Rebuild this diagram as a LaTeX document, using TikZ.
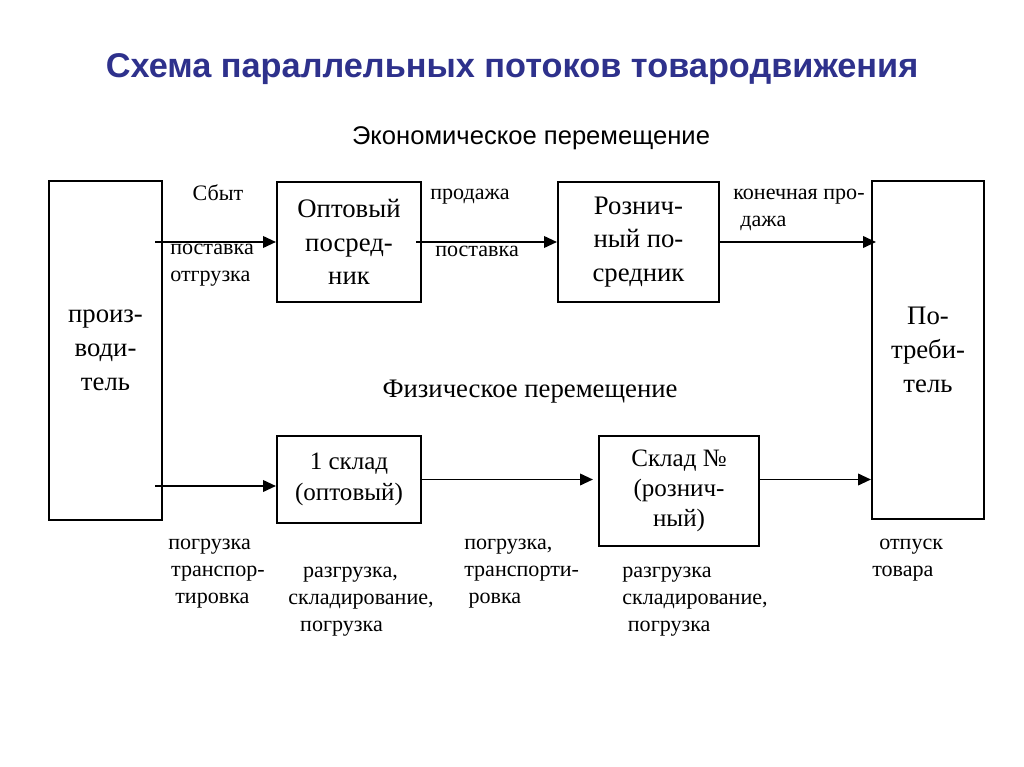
\documentclass[tikz,border=0pt]{standalone}
\usepackage{fontspec}
\setmainfont{Liberation Serif}
\setsansfont{Liberation Sans}
\usetikzlibrary{positioning, arrows.meta}
\definecolor{titleblue}{RGB}{46,49,140}

\begin{document}
\begin{tikzpicture}[x=0.025cm, y=-0.025cm,
  box/.style = {draw, line width=1.5pt, align=center, inner sep=0pt, font=\fontsize{19}{24}\selectfont},
  store/.style = {box, font=\fontsize{17.8}{21.5}\selectfont},
  lbl/.style = {align=left, inner sep=0pt, anchor=west, font=\fontsize{15.7}{19.2}\selectfont},
  flow/.style = {-{Triangle[length=3.2mm, width=2.9mm]}, line width=1.1pt}]
\useasboundingbox (0,0) rectangle (1024,767);

\node[font=\sffamily\bfseries\fontsize{24.4}{28}\selectfont, text=titleblue] (title) at (512,69) {Схема параллельных потоков товародвижения};
\node[font=\sffamily\fontsize{18.2}{21}\selectfont] (econ) at (531,138) {Экономическое перемещение};
\node[font=\fontsize{19}{22}\selectfont] (phys) at (530,392) {Физическое перемещение};

\node[box, minimum width=2.825cm, minimum height=8.475cm] (prod) at (105.5,350.5) {произ-\\води-\\тель};
\node[box, minimum width=3.6cm, minimum height=3cm] (opt) at (349,242) {Оптовый\\посред-\\ник};
\node[box, minimum width=4.025cm, minimum height=3cm] (rozn) at (638.5,242) {Рознич-\\ный по-\\средник};
\node[box, minimum width=2.8cm, minimum height=8.45cm] (cons) at (928,350) {По-\\треби-\\тель};
\node[store, minimum width=3.6cm, minimum height=2.175cm] (sk1) at (349,479.5) {1 склад\\(оптовый)};
\node[store, minimum width=4cm, minimum height=2.75cm] (skN) at (679,491) {Склад №\\(рознич-\\ный)};

\coordinate (s1) at (155,242);
\coordinate (s2) at (155,486);
\draw[flow] (s1) -- (s1 -| opt.west);
\draw[flow] ([xshift=-4pt]opt.east) -- (rozn.west);
\draw[flow, shorten >=-0.125cm] (rozn.east) -- (rozn.east -| cons.west);
\draw[flow] (s2) -- (s2 -| sk1.west);
\draw[flow, shorten >=0.125cm] (sk1.east) -- (sk1.east -| skN.west);
\draw[flow] (skN.east |- sk1.east) -- (sk1.east -| cons.west);

\node[lbl, anchor=center] (sbyt) at (218,193) {Сбыт};
\node[lbl] (post1) at (170,265.5) {поставка\\отгрузка};
\node[lbl] (prod2) at (430,196.5) {продажа};
\node[lbl] (post2) at (435,251.5) {поставка};
\node[lbl] (kon) at (733,209.5) {конечная про-\\\hspace{5pt}дажа};
\node[lbl] (pog1) at (168,574) {погрузка\\\hspace{2pt}транспор-\\\hspace{5pt}тировка};
\node[lbl] (razg1) at (288,602) {\hspace{10.5pt}разгрузка,\\складирование,\\\hspace{8.5pt}погрузка};
\node[lbl] (pog2) at (464,574) {погрузка,\\транспорти-\\\hspace{3pt}ровка};
\node[lbl] (razg2) at (622,601.5) {разгрузка\\складирование,\\\hspace{4pt}погрузка};
\node[lbl] (otp) at (872,560.5) {\hspace{5pt}отпуск\\товара};
\end{tikzpicture}
\end{document}
